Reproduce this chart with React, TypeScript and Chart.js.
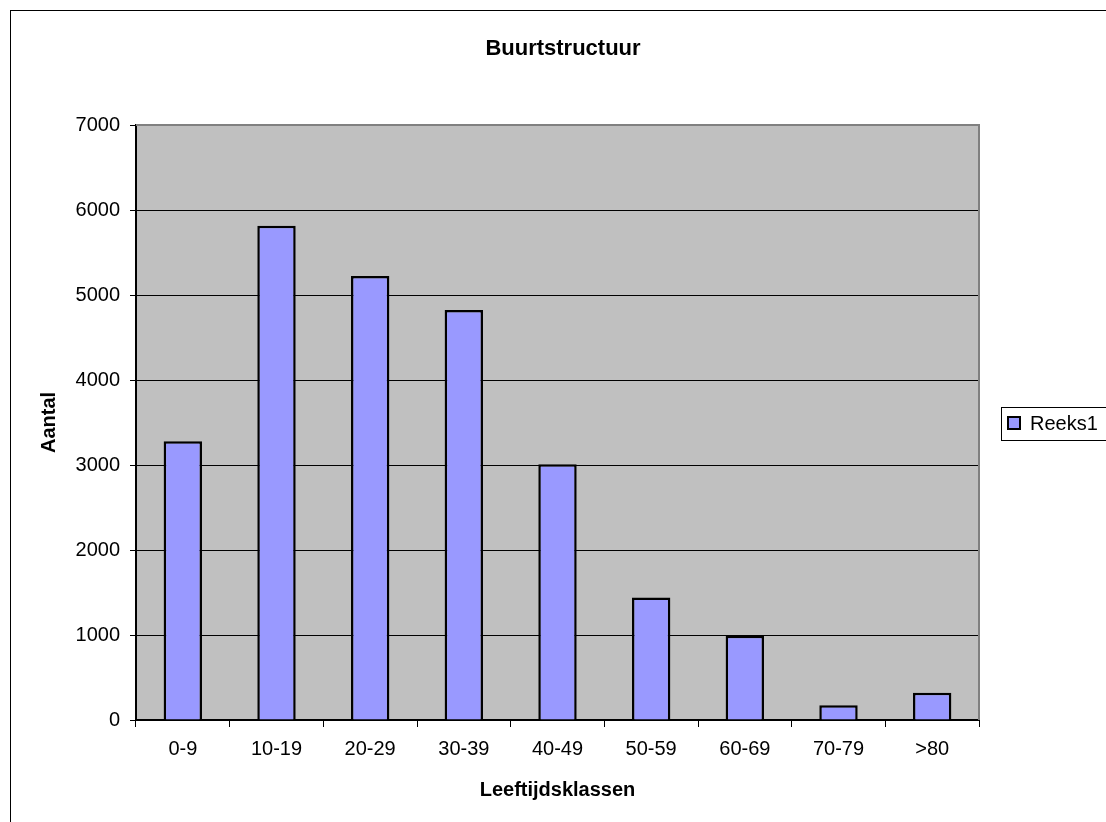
import React, { useEffect, useRef } from "react";
import { Chart, registerables } from "chart.js";

Chart.register(...registerables);

const chartTitle = "Buurtstructuur";
const xAxisTitle = "Leeftijdsklassen";
const yAxisTitle = "Aantal";
const seriesName = "Reeks1";
const categories = ["0-9", "10-19", "20-29", "30-39", "40-49", "50-59", "60-69", "70-79", ">80"];
const values = [3280, 5815, 5225, 4825, 3010, 1440, 990, 175, 320];
const yMin = 0;
const yMax = 7000;
const yStep = 1000;

const FONT = "'Liberation Sans', Arial, sans-serif";
const BAR_FILL = "#9999FF";
const PLOT_BG = "#C0C0C0";

export default function App() {
  const ref = useRef<HTMLCanvasElement | null>(null);

  useEffect(() => {
    const canvas = ref.current;
    if (!canvas) return;

    const decor = {
      id: "decor",
      beforeDraw(chart: any) {
        const { ctx, chartArea } = chart;
        ctx.save();
        ctx.fillStyle = "#ffffff";
        ctx.fillRect(0, 0, chart.width, chart.height);
        ctx.strokeStyle = "#000000";
        ctx.lineWidth = 1;
        ctx.strokeRect(10.5, 10.5, 1300, 1000);
        ctx.fillStyle = PLOT_BG;
        ctx.fillRect(chartArea.left, chartArea.top, chartArea.right - chartArea.left, chartArea.bottom - chartArea.top);
        ctx.restore();
      },
      afterDraw(chart: any) {
        const { ctx, chartArea } = chart;
        ctx.save();
        ctx.strokeStyle = "#808080";
        ctx.lineWidth = 2;
        ctx.beginPath();
        ctx.moveTo(chartArea.left, chartArea.top);
        ctx.lineTo(chartArea.right, chartArea.top);
        ctx.lineTo(chartArea.right, chartArea.bottom);
        ctx.stroke();
        ctx.fillStyle = "#000000";
        ctx.font = `bold 22px ${FONT}`;
        ctx.textAlign = "center";
        ctx.textBaseline = "middle";
        ctx.fillText(chartTitle, 563, 49);
        const ds = chart.data.datasets[0];
        ctx.strokeStyle = "#000000";
        ctx.lineWidth = 1;
        ctx.strokeRect(1001.5, 407.5, 200, 33);
        ctx.fillStyle = ds.backgroundColor;
        ctx.fillRect(1008, 417, 12, 12);
        ctx.lineWidth = 2;
        ctx.strokeRect(1008, 417, 12, 12);
        ctx.fillStyle = "#000000";
        ctx.font = `20px ${FONT}`;
        ctx.textAlign = "left";
        ctx.fillText(ds.label, 1030, 424);
        ctx.restore();
      },
    };

    const chart = new Chart(canvas, {
      type: "bar",
      data: {
        labels: categories,
        datasets: [
          {
            label: seriesName,
            data: values,
            backgroundColor: BAR_FILL,
            borderColor: "#000000",
            borderWidth: 2.5,
            categoryPercentage: 1,
            barPercentage: 0.41,
          },
        ],
      },
      options: {
        responsive: false,
        animation: false,
        layout: { padding: { top: 125, right: 127, bottom: 0, left: 0 } },
        plugins: {
          legend: { display: false },
          title: { display: false },
          tooltip: { enabled: false },
        },
        scales: {
          x: {
            offset: true,
            grid: {
              offset: true,
              drawOnChartArea: false,
              drawTicks: true,
              tickLength: 7,
              tickColor: "#000000",
              color: "#000000",
            },
            border: { display: true, color: "#000000", width: 2 },
            ticks: {
              color: "#000000",
              font: { family: FONT, size: 20 },
              padding: 10,
              maxRotation: 0,
              autoSkip: false,
            },
            title: {
              display: true,
              text: xAxisTitle,
              color: "#000000",
              font: { family: FONT, size: 20, weight: "bold" },
              padding: { top: 0, bottom: 20 },
            },
            afterFit(scale: any) {
              scale.height = 102;
            },
          },
          y: {
            min: yMin,
            max: yMax,
            grid: {
              color: (c: any) => (c.tick && c.tick.value === yMax ? "rgba(0,0,0,0)" : "#000000"),
              tickColor: "#000000",
              tickLength: 6,
              lineWidth: 1,
            },
            border: { display: true, color: "#000000", width: 2 },
            ticks: {
              stepSize: yStep,
              color: "#000000",
              font: { family: FONT, size: 20 },
              padding: 10,
              callback: (v: any) => String(v),
            },
            title: {
              display: true,
              text: yAxisTitle,
              color: "#000000",
              font: { family: FONT, size: 20, weight: "bold" },
              padding: { top: 37, bottom: 0 },
            },
            afterFit(scale: any) {
              scale.width = 136;
            },
          },
        },
      },
      plugins: [decor],
    });

    return () => chart.destroy();
  }, []);

  return (
    <div style={{ position: "absolute", left: 0, top: 0, width: 1106, height: 822, background: "#fff" }}>
      <canvas ref={ref} width={1106} height={822} style={{ display: "block" }} />
    </div>
  );
}
